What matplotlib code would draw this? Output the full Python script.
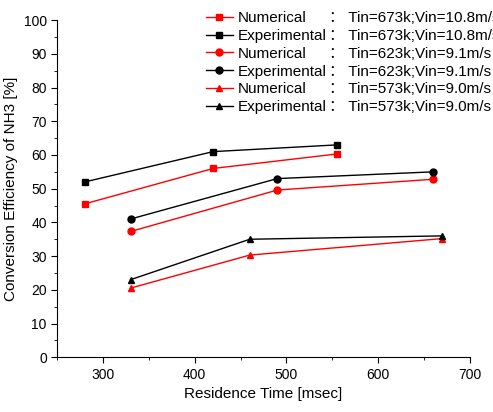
import matplotlib
matplotlib.use('Agg')
import matplotlib.pyplot as plt
from matplotlib.ticker import MultipleLocator

plt.rcParams['font.family'] = ['Liberation Sans', 'Noto Sans CJK SC', 'DejaVu Sans']

# data
x_673 = [280, 420, 555]
num_673 = [45.5, 56.0, 60.3]
exp_673 = [52.0, 61.0, 63.0]
x_623 = [330, 490, 660]
num_623 = [37.3, 49.6, 52.8]
exp_623 = [41.0, 53.0, 55.0]
x_573 = [330, 460, 670]
num_573 = [20.5, 30.3, 35.2]
exp_573 = [23.0, 35.0, 36.0]
names = ['Numerical', 'Experimental'] * 3
conds = ['Tin=673k;Vin=10.8m/s'] * 2 + ['Tin=623k;Vin=9.1m/s'] * 2 + ['Tin=573k;Vin=9.0m/s'] * 2

fig = plt.figure(figsize=(4.93, 4.12), dpi=100)
ax = fig.add_axes([0.116, 0.133, 0.837, 0.818])

series = [(x_673, num_673, 'red', 's'), (x_673, exp_673, 'black', 's'),
          (x_623, num_623, 'red', 'o'), (x_623, exp_623, 'black', 'o'),
          (x_573, num_573, 'red', '^'), (x_573, exp_573, 'black', '^')]
for (xs, ys, c, m), n in zip(series, names):
    ax.plot(xs, ys, color=c, marker=m, markersize=5, linewidth=1, label=n)

ax.set_xlim(250, 700)
ax.set_ylim(0, 100)
ax.xaxis.set_major_locator(MultipleLocator(100))
ax.xaxis.set_minor_locator(MultipleLocator(50))
ax.yaxis.set_major_locator(MultipleLocator(10))
ax.yaxis.set_minor_locator(MultipleLocator(5))
ax.tick_params(which='both', direction='out', labelsize=10)
ax.tick_params(which='major', length=4)
ax.tick_params(which='minor', length=2)
ax.spines['top'].set_visible(False)
ax.spines['right'].set_visible(False)
ax.set_xlabel('Residence Time [msec]', fontsize=11)
ax.set_ylabel('Conversion Efficiency of NH3 [%]', fontsize=11)

leg = ax.legend(loc='upper left', bbox_to_anchor=(0.345, 1.045), frameon=False,
                fontsize=11, handlelength=1.8, handletextpad=0.3, labelspacing=0.25,
                borderaxespad=0)
fig.canvas.draw()
r = fig.canvas.get_renderer()
texts = leg.get_texts()
xmax = max(t.get_window_extent(r).x1 for t in texts)
for t, c in zip(texts, conds):
    bb = t.get_window_extent(r)
    yc = (bb.y0 + bb.y1) / 2
    fx, fy = fig.transFigure.inverted().transform((xmax + 2, yc))
    fig.text(fx, fy, '： ' + c, fontsize=11, va='center', ha='left')

fig.savefig('out.png', dpi=100)
